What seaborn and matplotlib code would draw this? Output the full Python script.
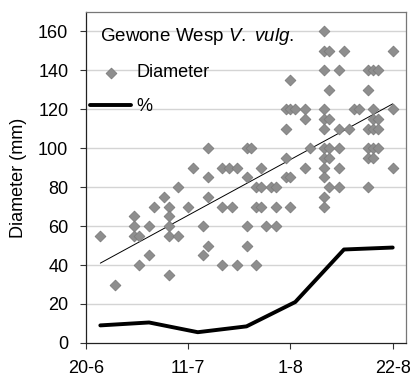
import numpy as np
import pandas as pd
import seaborn as sns
import matplotlib.pyplot as plt

# Dagen na 20 juni en diameter van het nest (mm)
dag = [3, 6, 10, 10, 10, 11, 11, 13, 13, 14, 16, 17, 17, 17, 17, 17, 19, 19, 21, 22,
       24, 24, 25, 25, 25, 25, 28, 28, 28, 29.5, 30, 31, 31, 33, 33, 33, 33, 34,
       35, 35, 35, 36, 36, 36, 37, 38, 39, 39, 39,
       41, 41, 41, 41, 42, 42, 42, 42, 43, 45, 45, 45, 46,
       49, 49, 49, 49, 49, 49, 49, 49, 49, 49, 49, 49,
       50, 50, 50, 50, 50, 50, 52, 52, 52, 52, 52, 53, 54, 55, 56,
       58, 58, 58, 58, 58, 58, 59, 59, 59, 59, 59, 59, 60, 60, 60, 60,
       63, 63, 63]
diameter = [55, 30, 65, 60, 55, 55, 40, 60, 45, 70, 75, 70, 65, 60, 55, 35, 80, 55, 70, 90,
            60, 45, 100, 85, 75, 50, 90, 70, 40, 90, 70, 90, 40, 100, 85, 60, 50, 100,
            80, 70, 40, 90, 80, 70, 60, 80, 80, 70, 60,
            120, 110, 95, 85, 135, 120, 85, 70, 120, 120, 115, 90, 100,
            160, 150, 140, 120, 115, 110, 100, 95, 90, 85, 75, 70,
            150, 130, 115, 100, 95, 80, 140, 110, 100, 90, 80, 150, 110, 120, 120,
            140, 130, 110, 100, 95, 80, 140, 120, 115, 110, 100, 95, 140, 115, 110, 100,
            150, 120, 90]

# Percentage
dag_pct = [3, 13, 23, 33, 43, 53, 63]
pct = [9, 10.5, 5.5, 8.5, 21, 48, 49]

tick_dagen = [0, 21, 42, 63]
tick_labels = ['20-6', '11-7', '1-8', '22-8']

df = pd.DataFrame({'dag': dag, 'diameter': diameter})
df_pct = pd.DataFrame({'dag': dag_pct, 'pct': pct})

sns.set_theme(style='white')
plt.rcParams['font.family'] = ['Liberation Sans', 'DejaVu Sans']
plt.rcParams['text.color'] = 'black'
plt.rcParams['axes.labelcolor'] = 'black'
plt.rcParams['xtick.color'] = 'black'
plt.rcParams['ytick.color'] = 'black'
plt.rcParams['mathtext.fontset'] = 'custom'
plt.rcParams['mathtext.rm'] = 'Liberation Sans'
plt.rcParams['mathtext.it'] = 'Liberation Sans:italic'

fig = plt.figure(figsize=(4.15, 3.76), dpi=100)
ax = fig.add_axes([0.2065, 0.088, 0.7715, 0.88])

for y in range(20, 170, 20):
    ax.axhline(y, color='#d4d4d4', lw=1, zorder=0)

sns.scatterplot(data=df, x='dag', y='diameter', marker='D', s=30, color='#8e8e8e',
                edgecolor='#7c7c7c', linewidth=0.6, ax=ax, zorder=3, label='Diameter')
sns.regplot(data=df, x='dag', y='diameter', scatter=False, ci=None, truncate=True,
            line_kws={'color': 'black', 'lw': 0.7}, ax=ax)
sns.lineplot(data=df_pct, x='dag', y='pct', color='black', lw=2.8, ax=ax, zorder=4, label='%')

ax.set_xlim(0, 65.7)
ax.set_ylim(0, 170)
ax.set_yticks(range(0, 161, 20))
ax.set_xticks(tick_dagen)
ax.set_xticklabels(tick_labels)
ax.set_xlabel('')
ax.set_ylabel('Diameter (mm)', fontsize=13, labelpad=8)
ax.tick_params(axis='both', labelsize=13, direction='out', length=4.5, width=0.8,
               color='#333333', pad=8, left=True, bottom=True)

for s in ['left', 'bottom']:
    ax.spines[s].set_color('#222222')
    ax.spines[s].set_linewidth(0.9)
for s in ['top', 'right']:
    ax.spines[s].set_color('#777777')
    ax.spines[s].set_linewidth(0.9)

ax.legend(loc='upper left', bbox_to_anchor=(0.013, 0.842), frameon=False, fontsize=13,
          borderpad=0, borderaxespad=0, handlelength=2.3, handletextpad=0.3,
          labelspacing=0.95)
ax.text(0.045, 0.927, r'Gewone Wesp $\it{V.\ vulg.}$', transform=ax.transAxes,
        fontsize=13.5, va='center', ha='left')

plt.savefig('out.png', dpi=100)
